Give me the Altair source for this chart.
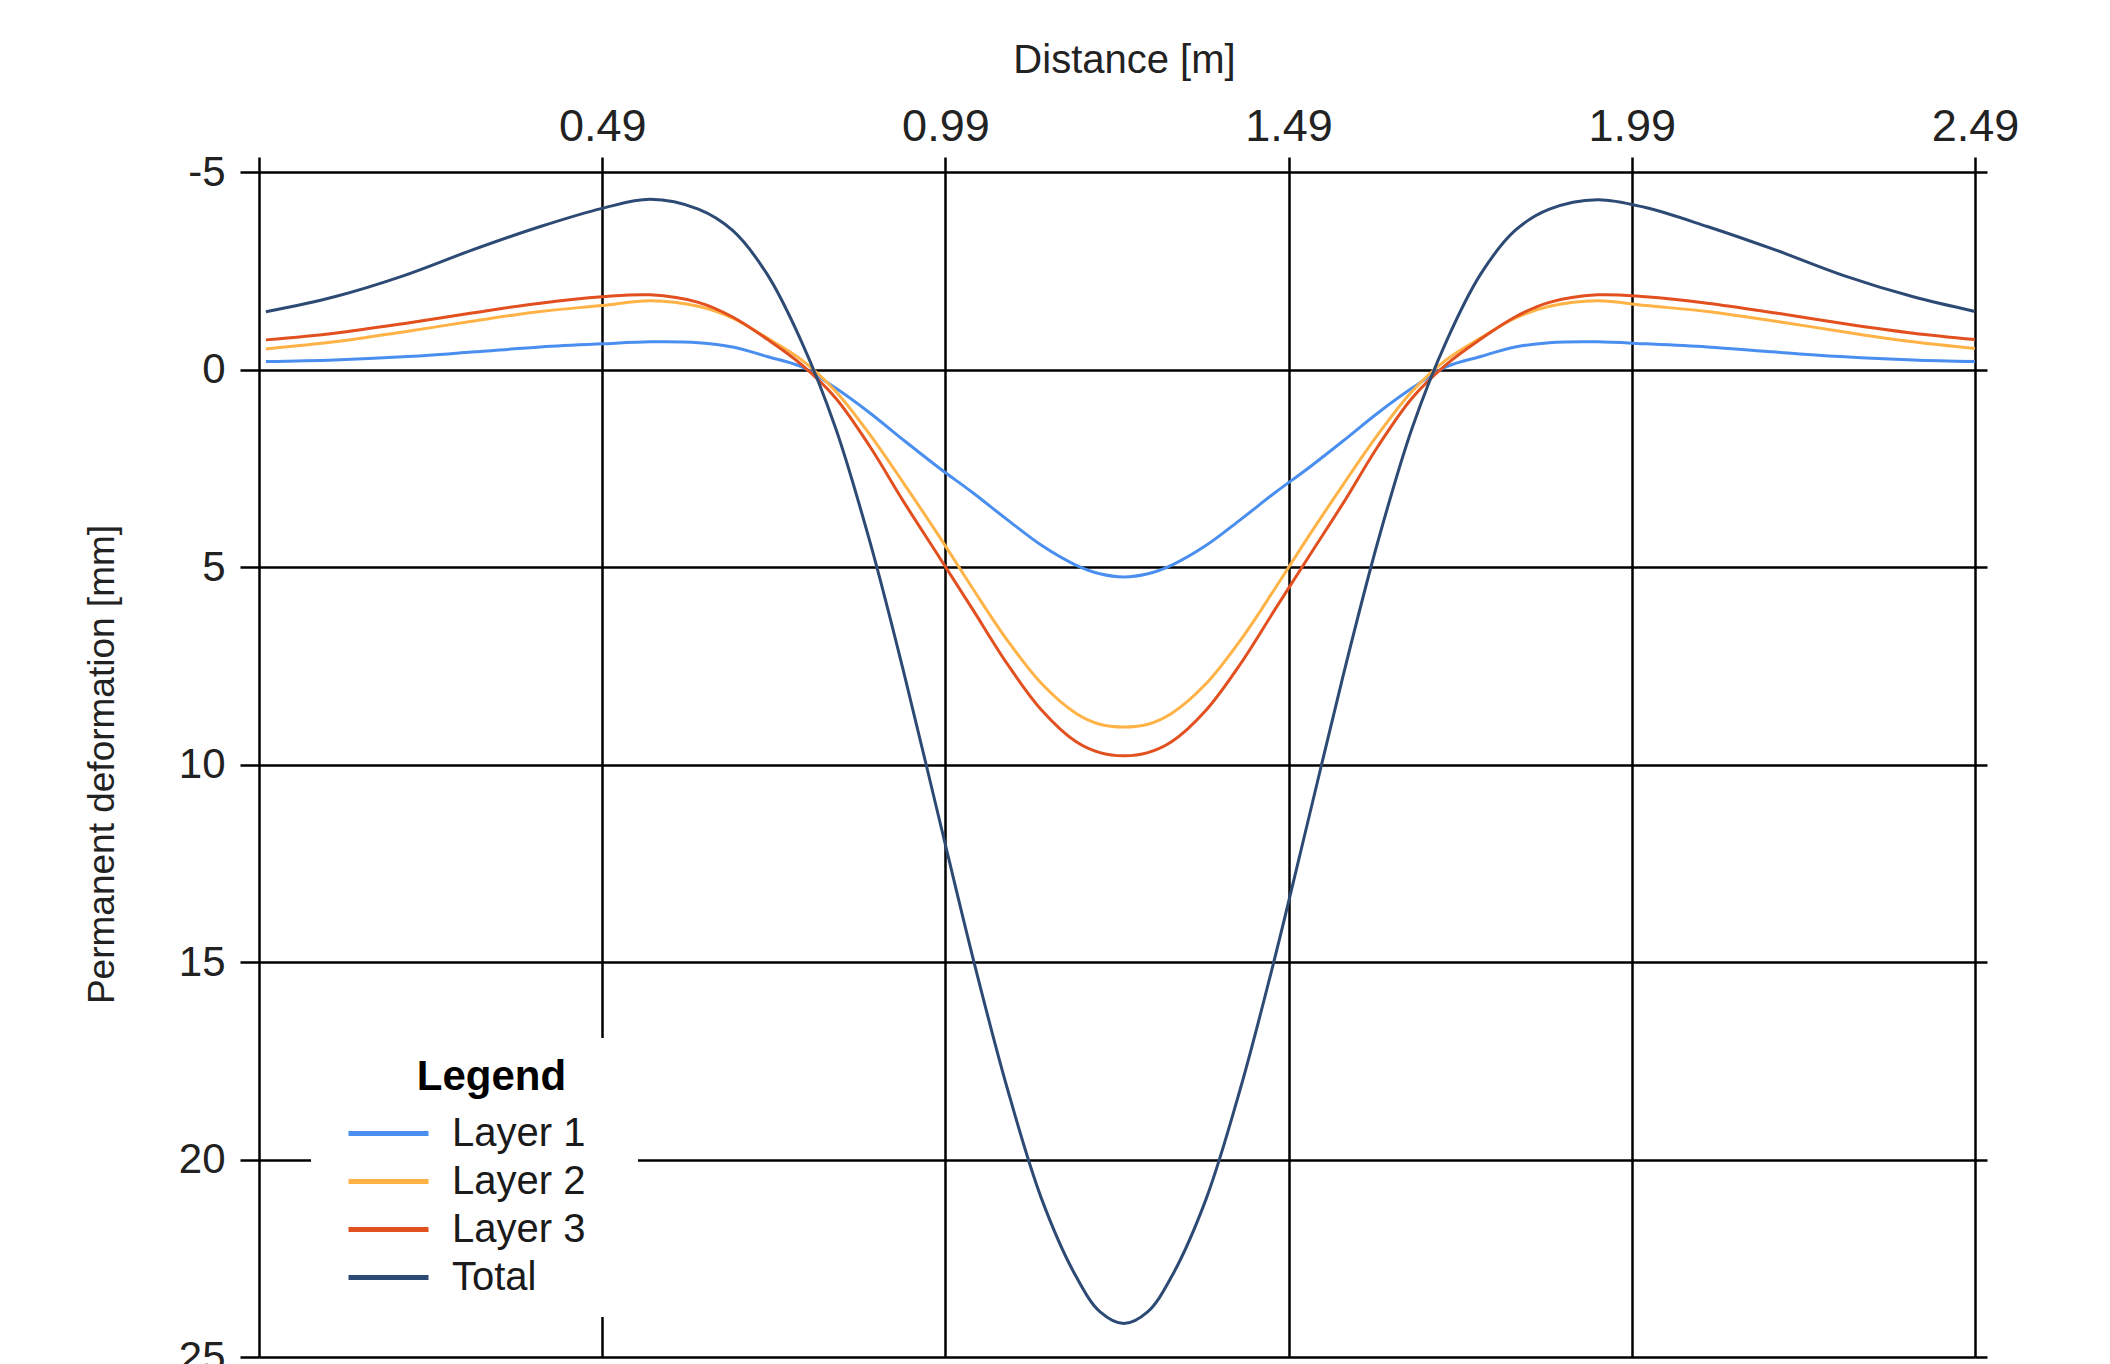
import altair as alt
import pandas as pd

# ---- data ----
distance_left = [0.00, 0.10, 0.20, 0.30, 0.40, 0.49, 0.56, 0.63, 0.68, 0.73, 0.78,
                 0.83, 0.88, 0.93, 0.98, 1.03, 1.08, 1.13, 1.18, 1.215, 1.25]
distance_right = [1.285, 1.32, 1.37, 1.42, 1.47, 1.52, 1.57, 1.62, 1.67, 1.72,
                  1.77, 1.82, 1.87, 1.94, 2.01, 2.10, 2.20, 2.30, 2.40, 2.49]

layer1_left = [-0.20, -0.24, -0.32, -0.44, -0.57, -0.65, -0.70, -0.68, -0.57, -0.33, -0.07,
               0.47, 1.10, 1.80, 2.48, 3.12, 3.80, 4.45, 4.95, 5.17, 5.25]
layer1_right = [5.17, 4.95, 4.45, 3.80, 3.12, 2.48, 1.80, 1.10, 0.47, -0.07,
                -0.33, -0.57, -0.68, -0.70, -0.65, -0.57, -0.44, -0.32, -0.24, -0.20]

layer2_left = [-0.52, -0.70, -0.95, -1.22, -1.47, -1.62, -1.74, -1.60, -1.30, -0.80, -0.25,
               0.55, 1.65, 2.90, 4.20, 5.55, 6.85, 7.95, 8.70, 8.98, 9.05]
layer2_right = [8.98, 8.70, 7.95, 6.85, 5.55, 4.20, 2.90, 1.65, 0.55, -0.25,
                -0.80, -1.30, -1.60, -1.74, -1.62, -1.47, -1.22, -0.95, -0.70, -0.53]

layer3_left = [-0.75, -0.92, -1.16, -1.43, -1.68, -1.84, -1.89, -1.70, -1.33, -0.77, -0.13,
               0.72, 1.95, 3.37, 4.72, 6.08, 7.45, 8.62, 9.42, 9.70, 9.78]
layer3_right = [9.70, 9.42, 8.62, 7.45, 6.08, 4.72, 3.37, 1.95, 0.72, -0.13,
                -0.77, -1.33, -1.70, -1.89, -1.84, -1.68, -1.43, -1.16, -0.92, -0.76]

total_left = [-1.46, -1.84, -2.37, -3.02, -3.62, -4.08, -4.31, -4.06, -3.52, -2.42, -0.72,
              1.48, 4.36, 7.71, 11.31, 14.89, 18.19, 20.99, 22.95, 23.85, 24.15]
total_right = [23.85, 22.95, 20.99, 18.19, 14.89, 11.31, 7.71, 4.36, 1.48, -0.72,
               -2.42, -3.52, -4.06, -4.30, -4.10, -3.62, -3.02, -2.37, -1.84, -1.47]

series_names = ["Layer 1", "Layer 2", "Layer 3", "Total"]
series_colors = ["#4A8FEF", "#FFB347", "#E2501F", "#2D4A74"]

x_ticks = [-0.01, 0.49, 0.99, 1.49, 1.99, 2.49]
y_ticks = [-5, 0, 5, 10, 15, 20, 25]

distance = distance_left + distance_right
series_values = [
    layer1_left + layer1_right,
    layer2_left + layer2_right,
    layer3_left + layer3_right,
    total_left + total_right,
]

rows = []
for name, vals in zip(series_names, series_values):
    for d, v in zip(distance, vals):
        rows.append({"distance": d, "deformation": v, "series": name})
df = pd.DataFrame(rows)

FONT = "Liberation Sans"
NBSP = "\u00a0"
ZWSP = "\u200b"  # keeps the padding spaces from being trimmed
x_scale = alt.Scale(domain=[-0.01, 2.49], nice=False, zero=False)
y_scale = alt.Scale(domain=[-5, 25], reverse=True, nice=False, zero=False)

x_axis = alt.Axis(
    orient="top",
    values=x_ticks,
    labelExpr="datum.value < 0 ? '' : format(datum.value, '.2f')",
    labelFlush=False,
    labelFontSize=45,
    labelColor="#222222",
    labelPadding=8,
    tickSize=15,
    tickWidth=2.5,
    tickColor="#000000",
    grid=True,
    gridColor="#000000",
    gridWidth=2.5,
    gridOpacity=1,
    domain=False,
    title="Distance [m]",
    titleFontSize=40,
    titleFontWeight="normal",
    titleColor="#222222",
    titleX=865,
    titleY=-100,
    titleBaseline="alphabetic",
    titleAlign="center",
)

lines = alt.Chart(df).mark_line(strokeWidth=3, interpolate="catmull-rom").encode(
    x=alt.X("distance:Q", scale=x_scale, axis=x_axis),
    y=alt.Y(
        "deformation:Q",
        scale=y_scale,
        axis=alt.Axis(
            orient="left",
            values=y_ticks,
            labelExpr="datum.value < 0 ? '-' + abs(datum.value) : '' + datum.value",
            labelFlush=False,
            labelFontSize=42,
            labelColor="#222222",
            labelPadding=15,
            tickSize=19,
            tickWidth=2.5,
            tickColor="#000000",
            grid=True,
            gridColor="#000000",
            gridWidth=2.5,
            gridOpacity=1,
            domain=False,
            title="Permanent deformation [mm]",
            titleFontSize=37,
            titleFontWeight="normal",
            titleColor="#222222",
            titleX=-146,
            titleY=592,
            titleAngle=270,
            titleBaseline="alphabetic",
            titleAlign="center",
        ),
    ),
    color=alt.Color(
        "series:N",
        scale=alt.Scale(domain=series_names, range=series_colors),
        legend=alt.Legend(
            title=ZWSP + NBSP * 3 + "Legend",
            orient="none",
            legendX=52,
            legendY=866,
            fillColor="white",
            padding=19,
            symbolType="M-2,0L2,0",
            symbolSize=1600,
            symbolStrokeWidth=5,
            symbolOffset=36,
            labelOffset=41,
            labelFontSize=40,
            labelLimit=400,
            labelColor="#1a1a1a",
            labelExpr="datum.label + '" + NBSP * 3 + ZWSP + "'",
            titleFontSize=42,
            titleFontWeight="bold",
            titleColor="#000000",
            titleAnchor="middle",
            titleAlign="center",
            titleLimit=400,
            titlePadding=12,
            rowPadding=5,
        ),
    ),
)

ghost = alt.Chart(df).mark_line(opacity=0).encode(
    x=alt.X("distance:Q", scale=x_scale, axis=x_axis),
    y=alt.Y(
        "deformation:Q",
        scale=y_scale,
        axis=alt.Axis(
            orient="right",
            values=y_ticks,
            labels=False,
            tickSize=12,
            tickWidth=2.5,
            tickColor="#000000",
            domain=False,
            grid=False,
            title="",
        ),
    ),
    detail="series:N",
)

chart = (
    alt.layer(lines, ghost)
    .resolve_scale(y="independent")
    .properties(
        width=1716,
        height=1185,
        autosize=alt.AutoSizeParams(type="none"),
        padding={"left": 251, "top": 164, "right": 100, "bottom": 7},
        background="white",
    )
    .configure_view(stroke=None)
    .configure_axis(labelFont=FONT, titleFont=FONT)
    .configure_legend(labelFont=FONT, titleFont=FONT)
)

chart.save("out.html", embed_options={"renderer": "svg", "actions": False})
